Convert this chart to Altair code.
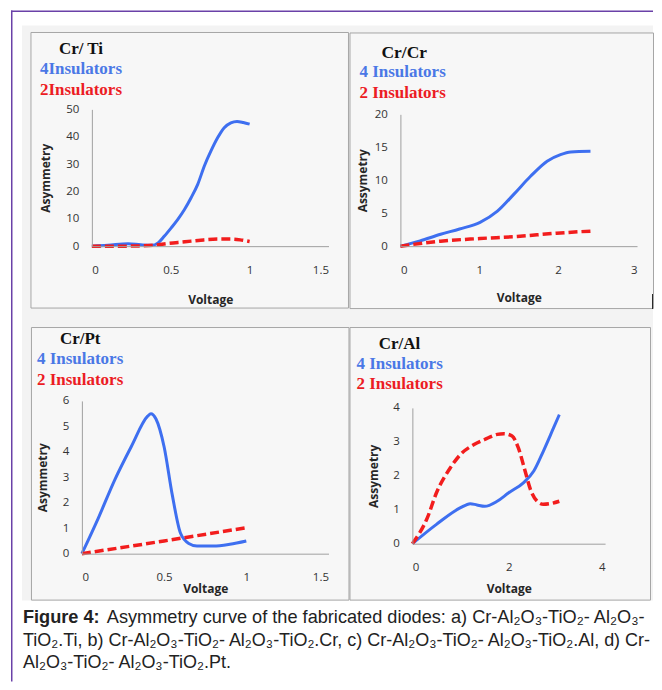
import altair as alt
import pandas as pd

# ---------------- data ----------------
# (a) Cr/Ti
a_v4 = [0, 0.1, 0.23, 0.31, 0.378, 0.42, 0.46, 0.503, 0.545, 0.587, 0.629, 0.671, 0.713, 0.755, 0.797, 0.839, 0.881, 0.92, 0.96, 1.0]
a_y4 = [0, 0.3, 0.9, 0.5, 0.3, 1.2, 3.7, 6.7, 9.8, 13.4, 17.7, 22.6, 29.3, 34.8, 39.6, 43.3, 45.1, 45.6, 45.2, 44.6]
a_v2 = [0, 0.2, 0.3, 0.4, 0.48, 0.59, 0.69, 0.8, 0.88, 0.94, 1.0]
a_y2 = [0, 0, 0.1, 0.4, 1.0, 1.6, 2.2, 2.6, 2.6, 2.3, 1.7]
# (b) Cr/Cr
b_v4 = [0, 0.25, 0.51, 0.75, 1.01, 1.23, 1.44, 1.65, 1.86, 2.03, 2.16, 2.41]
b_y4 = [0, 0.8, 1.8, 2.6, 3.6, 5.3, 7.9, 10.6, 12.9, 13.9, 14.3, 14.4]
b_v2 = [0, 0.51, 1.01, 1.48, 1.98, 2.41]
b_y2 = [0, 0.76, 1.16, 1.47, 1.97, 2.28]
# (c) Cr/Pt
c_v4 = [0, 0.1, 0.2, 0.3, 0.4, 0.42, 0.45, 0.5, 0.55, 0.6, 0.65, 0.7, 0.8, 0.9, 1.0]
c_y4 = [0, 1.4, 2.9, 4.2, 5.4, 5.5, 5.3, 4.2, 2.3, 0.8, 0.4, 0.3, 0.3, 0.37, 0.5]
c_v2 = [0, 0.5, 1.0]
c_y2 = [0, 0.5, 1.02]
# (d) Cr/Al
d_v4 = [0, 0.5, 1.0, 1.2, 1.34, 1.5, 1.76, 2.0, 2.31, 2.52, 2.72, 2.93, 3.05]
d_y4 = [0, 0.57, 1.06, 1.18, 1.14, 1.1, 1.25, 1.5, 1.8, 2.14, 2.73, 3.41, 3.8]
d_v2 = [0, 0.31, 0.5, 0.79, 1.0, 1.28, 1.5, 1.76, 1.9, 2.07, 2.2, 2.34, 2.45, 2.59, 2.72, 2.86, 3.05]
d_y2 = [0, 0.76, 1.5, 2.24, 2.63, 2.92, 3.07, 3.22, 3.24, 3.17, 2.82, 2.14, 1.6, 1.25, 1.16, 1.18, 1.25]

caption_bold = "Figure 4:"
caption_lines = [
    "Asymmetry curve of the fabricated diodes: a) Cr-Al₂O₃-TiO₂- Al₂O₃-",
    "TiO₂.Ti, b) Cr-Al₂O₃-TiO₂- Al₂O₃-TiO₂.Cr, c) Cr-Al₂O₃-TiO₂- Al₂O₃-TiO₂.Al, d) Cr-",
    "Al₂O₃-TiO₂- Al₂O₃-TiO₂.Pt.",
]

# ---------------- styles ----------------
BLUE = "#3e6ff0"
RED = "#f21d1d"
BLUE_TXT = "#4a78e6"
RED_TXT = "#ec1c24"
BOX_FILL = "#f7f7f7"
BOX_STROKE = "#a6a6a6"
BG = "#f3f3f3"
PURPLE = "#6a41a8"
SERIF = "Liberation Serif"
SANS = "Liberation Sans"
CAP1 = 18.2
CAP = 18


def one():
    return alt.Data(values=[{"k": 1}])


def rect(x, x2, y, y2, fill, stroke=None, sw=1):
    kw = dict(fill=fill)
    if stroke:
        kw.update(stroke=stroke, strokeWidth=sw)
    return alt.Chart(one()).mark_rect(**kw).encode(
        x=alt.value(x), x2=alt.value(x2), y=alt.value(y), y2=alt.value(y2)
    )


def text(s, x, y, color, size, font=SERIF, weight="bold"):
    return alt.Chart(one()).mark_text(
        text=s, align="left", baseline="alphabetic", font=font,
        fontSize=size, fontWeight=weight, color=color
    ).encode(x=alt.value(x), y=alt.value(y))


def panel(v4, y4, v2, y2, xmax, xticks, ymax, yticks, ytitle,
          w, h, xr, yr, xtitle_y, ytitle_x, labels, under=(), over=()):
    xenc = alt.X(
        "Voltage:Q",
        scale=alt.Scale(domain=[0, xmax], range=list(xr), nice=False, zero=False),
        axis=alt.Axis(values=xticks, format="~g", offset=yr[0] - h, title="Voltage",
                      titleY=xtitle_y, titleBaseline="middle", labelPadding=18, zindex=3),
    )
    yenc = alt.Y(
        "Asymmetry:Q",
        scale=alt.Scale(domain=[0, ymax], range=list(yr), nice=False, zero=False),
        axis=alt.Axis(values=yticks, format="d", offset=-xr[0], title=ytitle,
                      titleX=ytitle_x, titleBaseline="middle", labelPadding=13, zindex=3),
    )
    d4 = pd.DataFrame({"Voltage": v4, "Asymmetry": y4})
    d2 = pd.DataFrame({"Voltage": v2, "Asymmetry": y2})
    l4 = alt.Chart(d4).mark_line(color=BLUE, strokeWidth=3, interpolate="monotone").encode(x=xenc, y=yenc)
    l2 = alt.Chart(d2).mark_line(color=RED, strokeWidth=3.5, strokeDash=[9, 4],
                                 interpolate="monotone").encode(x=xenc, y=yenc)
    txt = [text(s, x, y, c, sz) for (s, x, y, c, sz) in labels]
    return alt.layer(*under, l4, l2, *txt, *over).properties(width=w, height=h)


pa = panel(
    a_v4, a_y4, a_v2, a_y2, 1.5, [0, 0.5, 1, 1.5], 50, [0, 10, 20, 30, 40, 50], "Asymmetry",
    318, 276, (61, 298), (214, 77), 53, -46,
    [("Cr/ Ti", 28, 22, "#111111", 17), ("4Insulators", 9, 42, BLUE_TXT, 17),
     ("2Insulators", 9, 63, RED_TXT, 17)],
    under=(
        rect(-9, 623, -7, 569, BG),
        rect(0, 318, 0, 276, BOX_FILL, BOX_STROKE),
        rect(-20, -18.5, -22, 650, PURPLE),
        rect(-20, 623, -22, -20.5, PURPLE),
    ),
)

pb = panel(
    b_v4, b_y4, b_v2, b_y2, 3, [0, 1, 2, 3], 20, [0, 5, 10, 15, 20], "Assymetry",
    304, 276, (51, 288), (214, 82), 51, -38,
    [("Cr/Cr", 32, 25.5, "#111111", 17.5), ("4 Insulators", 10, 45, BLUE_TXT, 17),
     ("2 Insulators", 10, 65.7, RED_TXT, 17)],
    over=(rect(303, 304, 262, 277, "#2a2a2a"),),
)

pc = panel(
    c_v4, c_y4, c_v2, c_y2, 1.5, [0, 0.5, 1, 1.5], 6, [0, 1, 2, 3, 4, 5, 6], "Asymmetry",
    318, 273, (51, 298), (227, 74), 35, -39,
    [("Cr/Pt", 29, 17.3, "#111111", 17), ("4 Insulators", 6, 37.3, BLUE_TXT, 17),
     ("2 Insulators", 6, 58, RED_TXT, 17)],
    over=(
        text(caption_bold, -8, 296.3, "#222222", CAP1, font=SANS, weight="bold"),
        text(caption_lines[0], 76, 296.3, "#222222", CAP1, font=SANS, weight="normal"),
        text(caption_lines[1], -8, 319, "#222222", CAP, font=SANS, weight="normal"),
        text(caption_lines[2], -8, 341, "#222222", CAP, font=SANS, weight="normal"),
    ),
)

pdd = panel(
    d_v4, d_y4, d_v2, d_y2, 4, [0, 2, 4], 4, [0, 1, 2, 3, 4], "Assymetry",
    301, 273, (63, 256), (217, 81), 45, -39,
    [("Cr/Al", 29.3, 22.3, "#111111", 17), ("4 Insulators", 7, 42.3, BLUE_TXT, 17),
     ("2 Insulators", 7, 62.3, RED_TXT, 17)],
)

chart = (
    alt.concat(pa, pb, pc, pdd, columns=2, spacing={"row": 19, "column": 1}, bounds="flush")
    .properties(padding={"left": 2, "top": 1, "right": 0, "bottom": 0}, background="white")
    .configure_view(fill=BOX_FILL, stroke=BOX_STROKE, strokeWidth=1)
    .configure_axis(
        labelFont="Open Sans", labelFontSize=11.5, labelColor="#333333",
        titleFont="Open Sans", titleFontSize=12, titleFontWeight="bold", titleColor="#262626",
        domainColor="#a0a0a0", domainWidth=1, ticks=False, grid=False,
    )
)

chart.save("out.html", embed_options={"renderer": "svg", "actions": False})
